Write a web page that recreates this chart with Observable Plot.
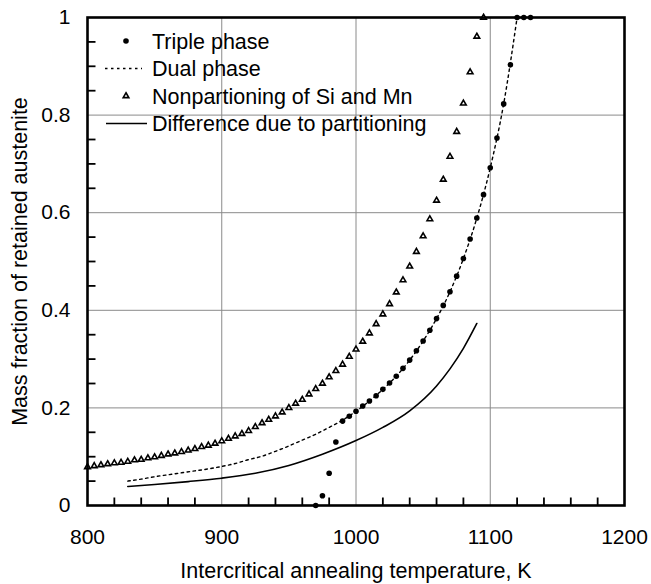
<!DOCTYPE html>
<html>
<head>
<meta charset="utf-8">
<script src="https://cdn.jsdelivr.net/npm/d3@7"></script>
<script src="https://cdn.jsdelivr.net/npm/@observablehq/plot@0.6"></script>
<style>
  html, body { margin: 0; padding: 0; background: #fff; }
  #wrap { position: relative; width: 651px; height: 584px; }
  #legend { position: absolute; left: 0; top: 0; pointer-events: none; }
  text { font-family: "Liberation Sans", Arial, sans-serif; }
</style>
</head>
<body>
<div id="wrap"></div>
<script>
// ---- Data ----
const tripleTemp = [970,975,980,985,990,995,1000,1005,1010,1015,1020,1025,1030,1035,1040,1045,1050,1055,1060,1065,1070,1075,1080,1085,1090,1095,1100,1105,1110,1115,1120,1125,1130];
const tripleFrac = [0,0.02,0.066,0.13,0.173,0.183,0.193,0.204,0.214,0.225,0.238,0.251,0.265,0.281,0.298,0.317,0.337,0.359,0.383,0.410,0.438,0.470,0.506,0.546,0.589,0.637,0.692,0.753,0.823,0.903,1.0,1.0,1.0];

const dualTemp = [830,840,850,860,870,880,890,900,910,920,930,940,950,960,970,980,990,1000,1010,1020,1030,1040,1050,1060,1070,1080,1090,1100,1110,1120];
const dualFrac = [0.050,0.054,0.059,0.063,0.067,0.071,0.075,0.080,0.086,0.094,0.101,0.111,0.122,0.134,0.146,0.160,0.175,0.193,0.214,0.238,0.265,0.298,0.337,0.383,0.438,0.506,0.589,0.692,0.823,1.0];

const nonpartTemp = [800,805,810,815,820,825,830,835,840,845,850,855,860,865,870,875,880,885,890,895,900,905,910,915,920,925,930,935,940,945,950,955,960,965,970,975,980,985,990,995,1000,1005,1010,1015,1020,1025,1030,1035,1040,1045,1050,1055,1060,1065,1070,1075,1080,1085,1090,1095];
const nonpartFrac = [0.079,0.081,0.083,0.085,0.087,0.088,0.090,0.093,0.094,0.097,
                     0.099,0.102,0.105,0.107,0.110,0.113,0.116,0.120,0.123,0.127,
                     0.132,0.137,0.142,0.147,0.153,0.161,0.169,0.176,0.183,0.191,
                     0.200,0.209,0.217,0.228,0.239,0.250,0.263,0.276,0.289,0.305,
                     0.320,0.336,0.353,0.372,0.392,0.413,0.437,0.462,0.490,0.520,
                     0.552,0.587,0.625,0.668,0.715,0.766,0.824,0.888,0.961,1.0];

const diffTemp = [830,850,875,900,925,950,975,1000,1020,1040,1060,1070,1080,1090];
const diffFrac = [0.039,0.043,0.049,0.056,0.066,0.082,0.105,0.133,0.160,0.194,0.245,0.280,0.322,0.373];

const xTicks = [800,900,1000,1100,1200];
const xMinorTicks = [820,840,860,880,920,940,960,980,1020,1040,1060,1080,1120,1140,1160,1180];
const yTicks = [0,0.2,0.4,0.6,0.8,1];
const yMinorTicks = [0.05,0.1,0.15,0.25,0.3,0.35,0.45,0.5,0.55,0.65,0.7,0.75,0.85,0.9,0.95];
const xGrid = [900,1000,1100];
const yGrid = [0.2,0.4,0.6,0.8];

const legendLabels = ["Triple phase","Dual phase","Nonpartioning of Si and Mn","Difference due to partitioning"];
const xTitle = "Intercritical annealing temperature, K";
const yTitle = "Mass fraction of retained austenite";

const zip = (t, f) => t.map((x, i) => ({t: x, f: f[i]}));
const triple = zip(tripleTemp, tripleFrac);
const dual = zip(dualTemp, dualFrac);
const nonpart = zip(nonpartTemp, nonpartFrac);
const diff = zip(diffTemp, diffFrac);

const font = '"Liberation Sans", Arial, sans-serif';
const W = 651, H = 584, mL = 87, mR = 27, mT = 17, mB = 79;
const xDomain = [800, 1200], yDomain = [0, 1];
const frameW = W - mL - mR, frameH = H - mT - mB, tickLen = 8;
const xTickLen = tickLen / frameW * (xDomain[1] - xDomain[0]);
const yTickLen = tickLen / frameH * (yDomain[1] - yDomain[0]);

const xMinor = xMinorTicks.map(v => ({v}));
const yMinor = yMinorTicks.map(v => ({v}));

const chart = Plot.plot({
  width: W,
  height: H,
  marginLeft: mL,
  marginRight: mR,
  marginTop: mT,
  marginBottom: mB,
  style: {fontFamily: font, fontSize: "21px", background: "#fff", color: "#000"},
  x: {domain: xDomain},
  y: {domain: yDomain},
  marks: [
    Plot.ruleX(xGrid, {x: d => d, stroke: "#8a8a8a", strokeWidth: 1}),
    Plot.ruleY(yGrid, {y: d => d, stroke: "#8a8a8a", strokeWidth: 1}),
    // inward minor ticks on bottom and left edges
    Plot.link(xMinor, {x1: "v", x2: "v", y1: () => yDomain[0], y2: () => yDomain[0] + yTickLen, stroke: "#000", strokeWidth: 1.8}),
    Plot.link(yMinor, {y1: "v", y2: "v", x1: () => xDomain[0], x2: () => xDomain[0] + xTickLen, stroke: "#000", strokeWidth: 1.8}),
    Plot.axisX({ticks: xTicks, tickSize: 0, tickPadding: 24, tickFormat: d => String(d), label: null, fontSize: 21}),
    Plot.axisY({ticks: yTicks, tickSize: 0, tickPadding: 17, tickFormat: d => String(d), label: null, fontSize: 21}),
    Plot.line(diff, {x: "t", y: "f", stroke: "#000", strokeWidth: 1.6, curve: "monotone-x"}),
    Plot.line(dual, {x: "t", y: "f", stroke: "#000", strokeWidth: 1.4, strokeDasharray: "2.5,3.5", curve: "monotone-x"}),
    Plot.dot(nonpart, {x: "t", y: "f", symbol: "triangle", r: 2.1, stroke: "#000", fill: "#fff", strokeWidth: 1.6}),
    Plot.dot(triple, {x: "t", y: "f", r: 2.8, fill: "#000", stroke: "none"}),
    Plot.frame({stroke: "#000", strokeWidth: 2.6}),
    Plot.text([xTitle], {frameAnchor: "bottom", lineAnchor: "middle", dy: 66, fontSize: 21.5, fill: "#000"}),
    Plot.text([yTitle], {frameAnchor: "left", textAnchor: "middle", lineAnchor: "middle", rotate: -90, dx: -67, fontSize: 21.5, fill: "#000"})
  ]
});

const wrap = document.getElementById("wrap");
wrap.appendChild(chart);

// ---- Legend overlay (inside plot area, top-left) ----
const ns = "http://www.w3.org/2000/svg";
const lg = document.createElementNS(ns, "svg");
lg.setAttribute("id", "legend");
lg.setAttribute("width", W);
lg.setAttribute("height", H);
const rowY = [41, 68.5, 96, 123.5];
function el(name, attrs) {
  const e = document.createElementNS(ns, name);
  for (const k in attrs) e.setAttribute(k, attrs[k]);
  lg.appendChild(e);
  return e;
}
el("circle", {cx: 126, cy: rowY[0], r: 2.8, fill: "#000"});
el("line", {x1: 105, x2: 142, y1: rowY[1], y2: rowY[1], stroke: "#000", "stroke-width": 1.4, "stroke-dasharray": "2.5,3.5"});
const tri = d3.symbol(d3.symbolTriangle, 2.1 * 2.1 * Math.PI)();
el("path", {d: tri, transform: `translate(126,${rowY[2]})`, stroke: "#000", fill: "#fff", "stroke-width": 1.6});
el("line", {x1: 106, x2: 147, y1: rowY[3], y2: rowY[3], stroke: "#000", "stroke-width": 1.6});
legendLabels.forEach((s, i) => {
  const t = el("text", {x: 152, y: rowY[i] + 7.7, "font-size": 21.5, fill: "#000"});
  t.textContent = s;
});
wrap.appendChild(lg);
</script>
</body>
</html>
